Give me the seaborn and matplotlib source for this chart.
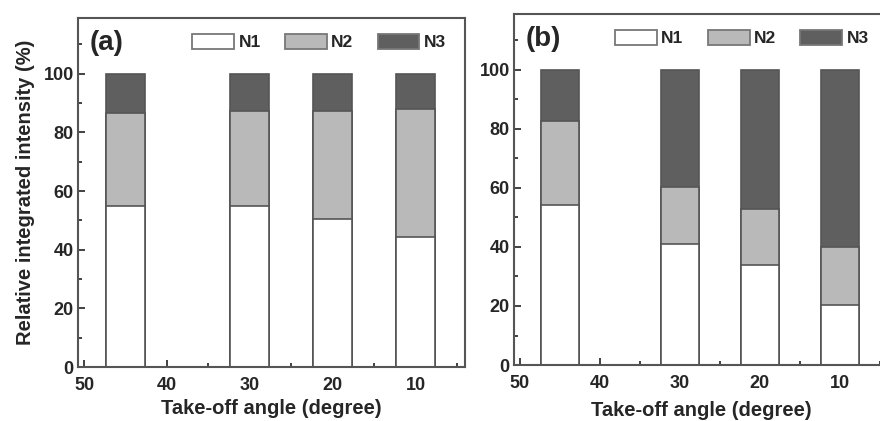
import numpy as np
import pandas as pd
import matplotlib
matplotlib.use('Agg')
import matplotlib.pyplot as plt
from matplotlib.patches import Patch
from matplotlib.ticker import MultipleLocator
import seaborn as sns

# data (take-off angle in degree, intensity in %)
angles = [45, 30, 20, 10]
n1_a = [54.8, 55.1, 50.6, 44.3]
n2_a = [31.8, 32.1, 36.8, 43.6]
n3_a = [13.4, 12.8, 12.6, 12.1]
n1_b = [54.2, 40.9, 33.9, 20.3]
n2_b = [28.6, 19.5, 18.9, 19.8]
n3_b = [17.2, 39.6, 47.2, 59.9]
series = ['N1', 'N2', 'N3']
panel_labels = ['(a)', '(b)']

colors = {'N1': '#ffffff', 'N2': '#b9b9b9', 'N3': '#5f5f5f'}
edge = '#555555'

sns.set_style('ticks')
plt.rcParams['font.family'] = ['Liberation Sans', 'DejaVu Sans']
plt.rcParams['font.weight'] = 'bold'

fig = plt.figure(figsize=(8.8, 4.21), dpi=100)
ax_a = fig.add_axes([0.0886, 0.128, 0.44, 0.829])
ax_b = fig.add_axes([0.584, 0.133, 0.425, 0.834])

panels = [(ax_a, n1_a, n2_a, n3_a), (ax_b, n1_b, n2_b, n3_b)]

for (ax, n1, n2, n3), lab in zip(panels, panel_labels):
    df = pd.DataFrame({'angle': angles, 'N1': n1, 'N2': n2, 'N3': n3})
    # cumulative sums, draw the tallest bar first so the stack shows
    df['c1'] = df['N1']
    df['c2'] = df['N1'] + df['N2']
    df['c3'] = df['N1'] + df['N2'] + df['N3']
    for col, s in zip(['c3', 'c2', 'c1'], ['N3', 'N2', 'N1']):
        sns.barplot(data=df, x='angle', y=col, native_scale=True, width=0.47,
                    color=colors[s], edgecolor=edge, linewidth=1.2,
                    saturation=1, ax=ax)

    ax.set_xlim(50.75, 4)
    ax.set_ylim(0, 119)
    ax.xaxis.set_major_locator(MultipleLocator(10))
    ax.xaxis.set_minor_locator(MultipleLocator(5))
    ax.set_yticks([0, 20, 40, 60, 80, 100])
    ax.yaxis.set_minor_locator(MultipleLocator(10))
    ax.tick_params(which='both', direction='in', top=False, right=False,
                   color='#333333', width=1.3)
    ax.tick_params(which='major', length=5, labelsize=13, pad=3)
    ax.tick_params(axis='x', which='major', pad=7)
    ax.tick_params(which='minor', length=3)
    for sp in ax.spines.values():
        sp.set_visible(True)
        sp.set_linewidth(1.5)
        sp.set_color('#555555')
    for t in ax.get_xticklabels() + ax.get_yticklabels():
        t.set_fontweight('bold')

    ax.set_xlabel('Take-off angle (degree)', fontsize=14.5, fontweight='bold', labelpad=4)
    ax.set_ylabel('')
    ax.text(0.03, 0.965, lab, transform=ax.transAxes, fontsize=20,
            fontweight='bold', va='top', ha='left')

    handles = [Patch(facecolor=colors[s], edgecolor='#777777', linewidth=1.3, label=s)
               for s in series]
    ax.legend(handles=handles, ncol=3, loc='upper right', frameon=False,
              bbox_to_anchor=(0.99, 1.0), handlelength=2.4, handleheight=1.0,
              handletextpad=0.25, columnspacing=1.4,
              prop={'size': 12.5, 'weight': 'bold'})

ax_a.set_ylabel('Relative integrated intensity (%)', fontsize=14.5, fontweight='bold',
                labelpad=6)
ax_b.xaxis.labelpad = 7

fig.savefig('out.png', dpi=100)
